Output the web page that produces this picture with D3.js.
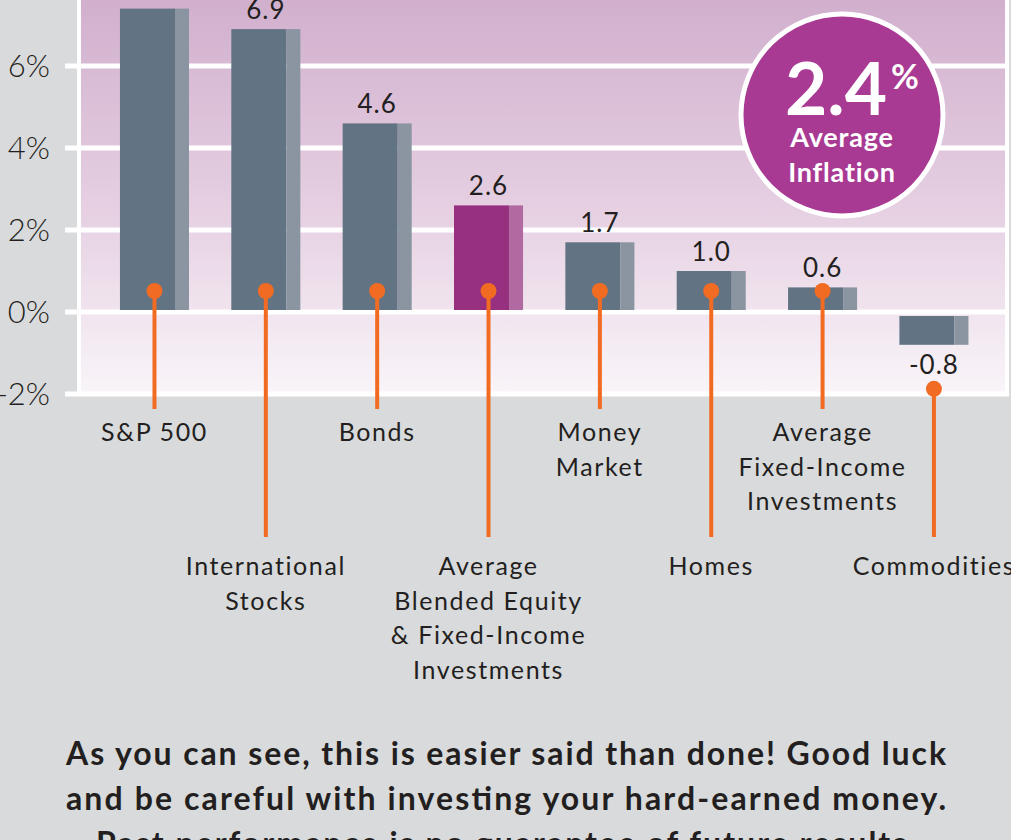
<!DOCTYPE html>
<html>
<head>
<meta charset="utf-8">
<script src="https://cdn.jsdelivr.net/npm/d3@7"></script>
<style>
  html, body { margin: 0; padding: 0; background: #d9dadc; }
  svg { display: block; font-family: Lato, 'Open Sans', sans-serif; }
</style>
</head>
<body>
<div id="app"></div>
<script>
const categories = ['S&P 500', 'International Stocks', 'Bonds', 'Average Blended Equity & Fixed-Income Investments',
  'Money Market', 'Homes', 'Average Fixed-Income Investments', 'Commodities'];
const labelLines = [['S&P 500'], ['International', 'Stocks'], ['Bonds'],
  ['Average', 'Blended Equity', '& Fixed-Income', 'Investments'], ['Money', 'Market'], ['Homes'],
  ['Average', 'Fixed-Income', 'Investments'], ['Commodities']];
const returns = [7.4, 6.9, 4.6, 2.6, 1.7, 1.0, 0.6, -0.8];
const yTicks = [-2, 0, 2, 4, 6];
const inflation = 2.4;
const footer = ['As you can see, this is easier said than done! Good luck',
  'and be careful with investing your hard-earned money.',
  'Past performance is no guarantee of future results.'];
const footerWidth = [880, 880, 820];

const width = 1011;
const height = 840;

const svg = d3.select('#app').append('svg')
  .attr('width', width)
  .attr('height', height);

const x = d3.scaleBand()
  .domain(categories)
  .range([98.8, 989.6])
  .paddingInner(0.38)
  .paddingOuter(0.19);

const y = d3.scaleLinear()
  .domain([-2, 6])
  .range([394, 66]);

// plot background
const grad = svg.append('defs').append('linearGradient')
  .attr('id', 'bg').attr('x1', 0).attr('y1', 0).attr('x2', 0).attr('y2', 1);
grad.append('stop').attr('offset', 0).attr('stop-color', '#d0aecd');
grad.append('stop').attr('offset', 0.55).attr('stop-color', '#e6d0e2');
grad.append('stop').attr('offset', 1).attr('stop-color', '#f9f5f9');

svg.append('rect')
  .attr('x', 80).attr('y', -10)
  .attr('width', 926).attr('height', y(-2) + 10)
  .attr('fill', 'url(#bg)');

// frame lines
svg.append('line')
  .attr('x1', 79).attr('x2', 79).attr('y1', -10).attr('y2', y(-2))
  .attr('stroke', '#fff').attr('stroke-width', 4);
svg.append('line')
  .attr('x1', 1007).attr('x2', 1007).attr('y1', -10).attr('y2', y(-2))
  .attr('stroke', '#fff').attr('stroke-width', 4);

// grid + tick labels
const grid = svg.append('g');
grid.selectAll('line')
  .data(yTicks)
  .enter().append('line')
  .attr('x1', 65).attr('x2', 1009)
  .attr('y1', d => y(d)).attr('y2', d => y(d))
  .attr('stroke', '#fff').attr('stroke-width', 5);

grid.selectAll('text')
  .data(yTicks)
  .enter().append('text')
  .attr('x', 50).attr('y', d => y(d) + 11)
  .attr('text-anchor', 'end')
  .attr('font-size', 31)
  .attr('font-weight', 300)
  .attr('fill', '#231f20')
  .text(d => `${d}%`);

// bars
const bw = x.bandwidth();
const hl = 14;
const bars = svg.append('g').selectAll('g')
  .data(returns)
  .enter().append('g')
  .attr('transform', (d, i) => `translate(${x(categories[i])},0)`);

bars.append('rect')
  .attr('y', d => d >= 0 ? y(d) : y(0) + 4)
  .attr('width', bw - hl)
  .attr('height', d => d >= 0 ? y(0) - 2 - y(d) : y(d) - y(0) - 4)
  .attr('fill', (d, i) => i === 3 ? '#97307f' : '#627383');

bars.append('rect')
  .attr('x', bw - hl)
  .attr('y', d => d >= 0 ? y(d) : y(0) + 4)
  .attr('width', hl)
  .attr('height', d => d >= 0 ? y(0) - 2 - y(d) : y(d) - y(0) - 4)
  .attr('fill', (d, i) => i === 3 ? '#b06aa1' : '#8a95a1');

bars.append('text')
  .attr('x', bw / 2)
  .attr('y', d => d >= 0 ? y(d) - 10 : y(d) + 29)
  .attr('text-anchor', 'middle')
  .attr('font-size', 26)
  .attr('letter-spacing', 1)
  .attr('fill', '#231f20')
  .text(d => d.toFixed(1));

// leader lines and dots
const dotY = d => d >= 0 ? y(0) - 21 : y(d) + 44;
bars.append('line')
  .attr('x1', bw / 2).attr('x2', bw / 2)
  .attr('y1', dotY)
  .attr('y2', (d, i) => i % 2 ? 537 : 409)
  .attr('stroke', '#f26b23').attr('stroke-width', 4);

bars.append('circle')
  .attr('cx', bw / 2).attr('cy', dotY)
  .attr('r', 8)
  .attr('fill', '#f26b23');

bars.append('text')
  .attr('text-anchor', 'middle')
  .attr('font-size', 25)
  .attr('letter-spacing', 1.6)
  .attr('fill', '#231f20')
  .attr('y', (d, i) => i % 2 ? 575 : 441)
  .selectAll('tspan')
  .data((d, i) => labelLines[i])
  .enter().append('tspan')
  .attr('x', bw / 2)
  .attr('dy', (d, j) => j ? 34.7 : 0)
  .text(d => d);

// inflation badge
const badge = svg.append('g').attr('transform', 'translate(842,115)');
badge.append('circle')
  .attr('r', 101)
  .attr('fill', '#a93a93')
  .attr('stroke', '#fff').attr('stroke-width', 5);
badge.append('text')
  .attr('x', -6).attr('y', 0)
  .attr('text-anchor', 'middle')
  .attr('font-size', 73).attr('font-weight', 700)
  .attr('fill', '#fff')
  .text(inflation.toFixed(1));
badge.append('text')
  .attr('x', 63).attr('y', -26)
  .attr('text-anchor', 'middle')
  .attr('font-size', 34).attr('font-weight', 700)
  .attr('fill', '#fff')
  .text('%');
badge.append('text')
  .attr('text-anchor', 'middle')
  .attr('font-size', 27).attr('font-weight', 700)
  .attr('letter-spacing', 0.8)
  .attr('fill', '#fff')
  .selectAll('tspan')
  .data(['Average', 'Inflation'])
  .enter().append('tspan')
  .attr('x', 0)
  .attr('y', (d, j) => 32 + j * 35)
  .text(d => d);

// footer text
svg.append('g').selectAll('text')
  .data(footer)
  .enter().append('text')
  .attr('x', 506)
  .attr('y', (d, i) => 765 + i * 45)
  .attr('text-anchor', 'middle')
  .attr('font-size', 32).attr('font-weight', 700)
  .attr('textLength', (d, i) => footerWidth[i])
  .attr('lengthAdjust', 'spacing')
  .attr('fill', '#231f20')
  .text(d => d);
</script>
</body>
</html>
